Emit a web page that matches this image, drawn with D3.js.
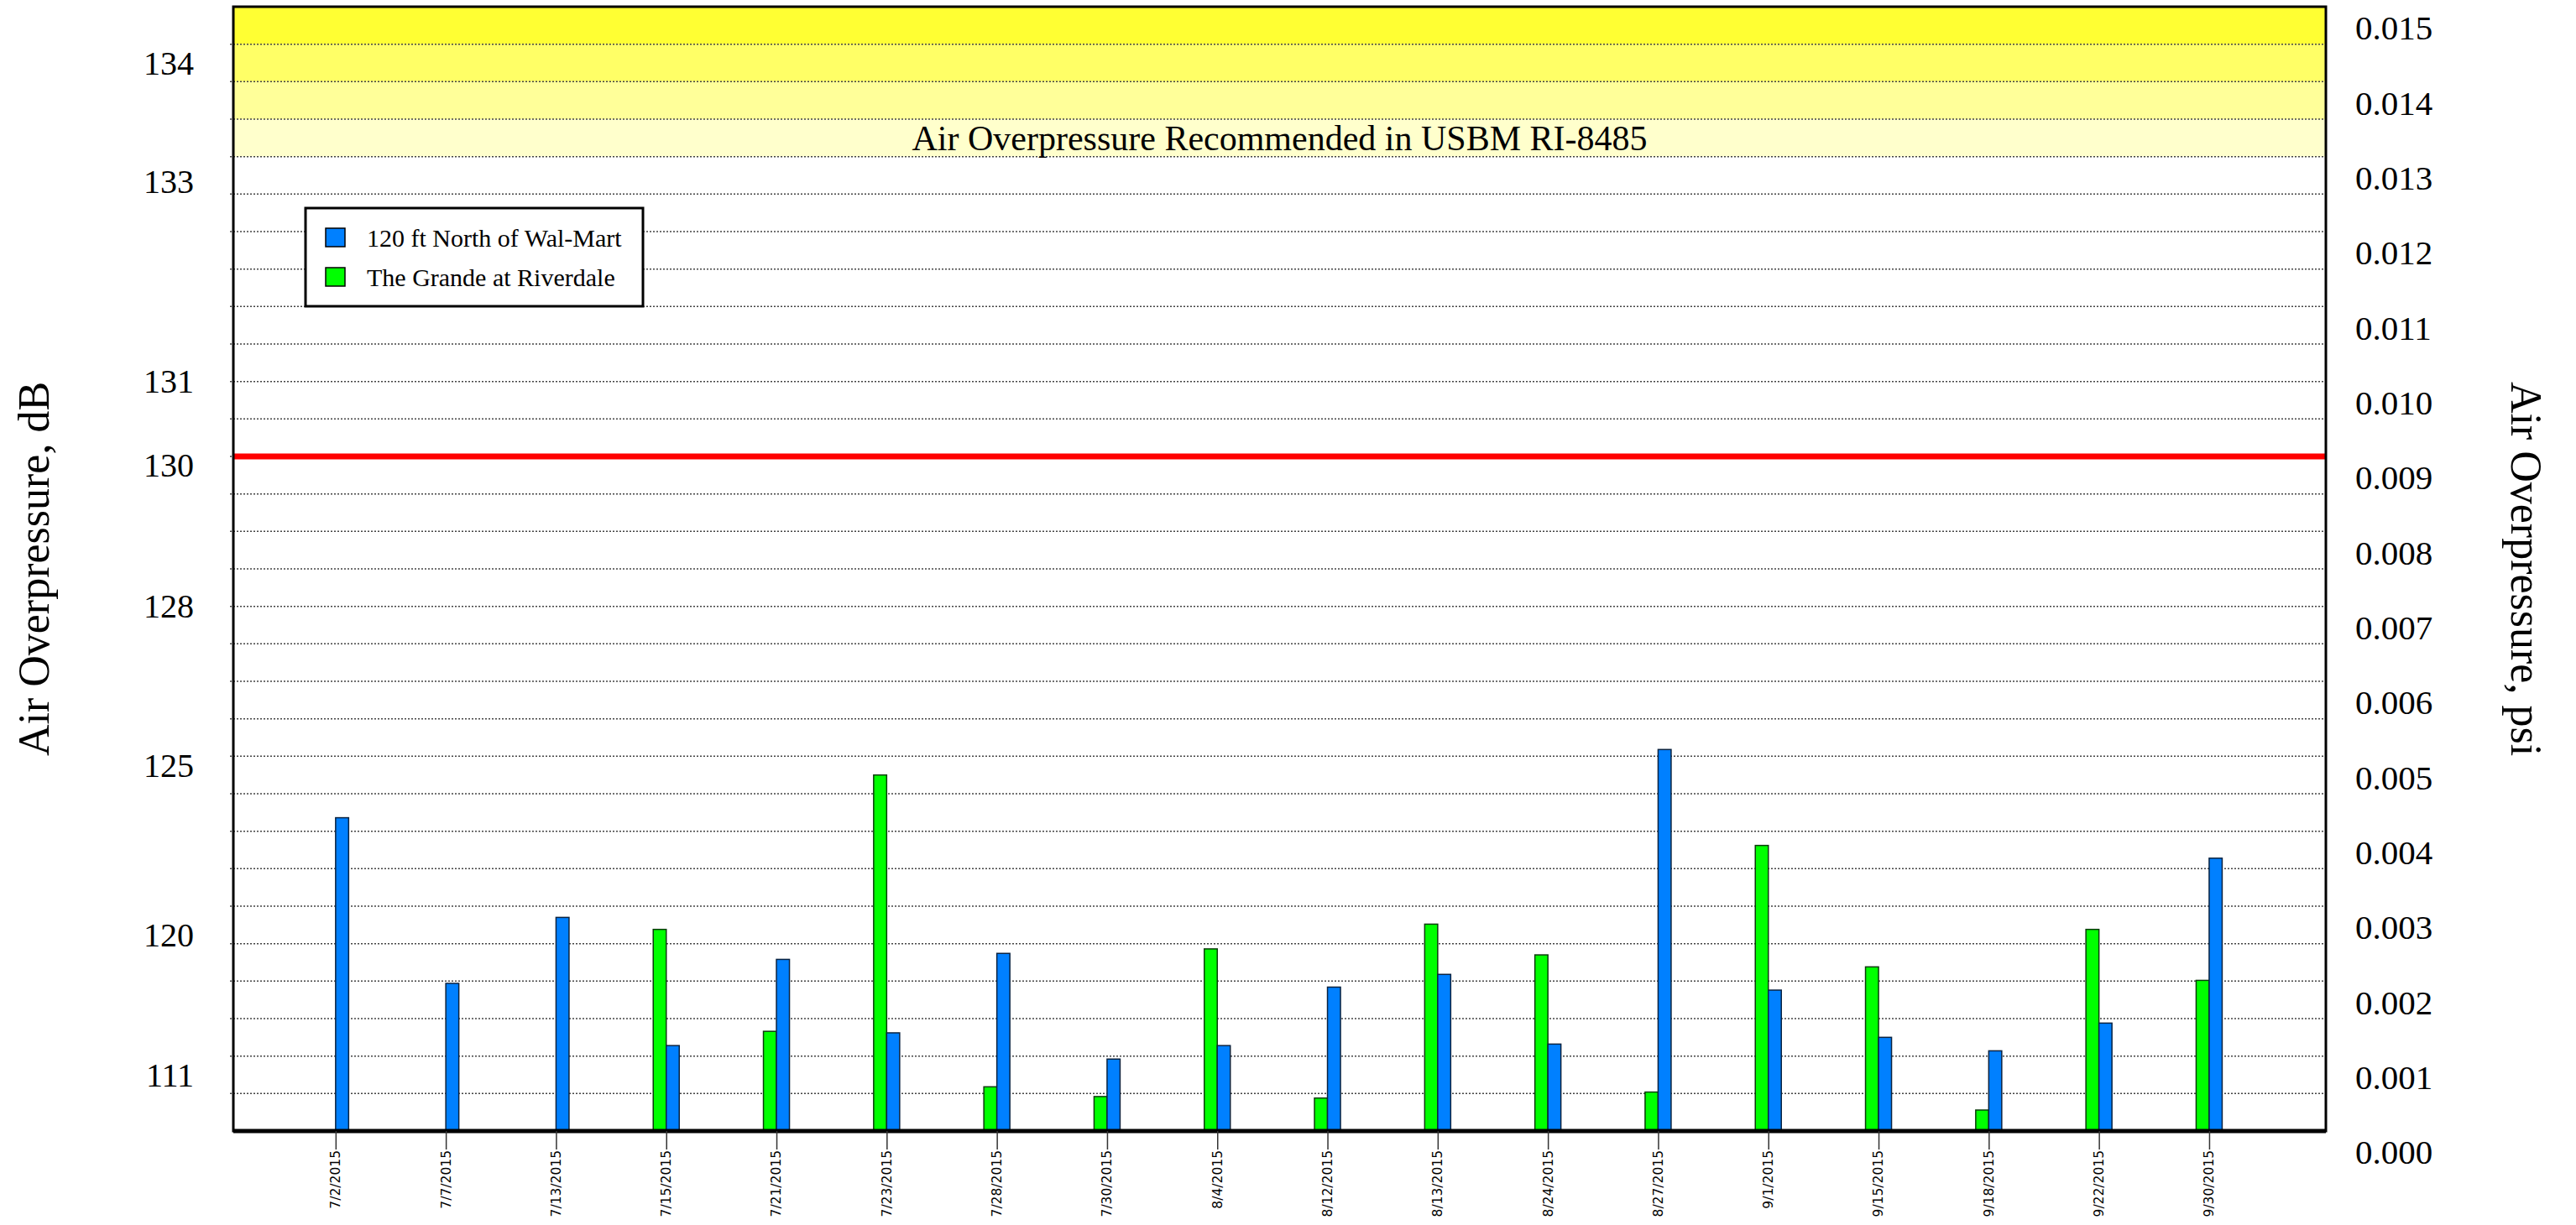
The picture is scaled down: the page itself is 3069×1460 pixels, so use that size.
<!DOCTYPE html>
<html>
<head>
<meta charset="utf-8">
<script src="https://cdn.jsdelivr.net/npm/d3@7"></script>
<style>
  html, body { margin: 0; padding: 0; background: #fff; overflow: hidden; }
  svg { display: block; }
  .serif { font-family: "Liberation Serif", "Times New Roman", serif; }
  .date { font-family: "DejaVu Sans", sans-serif; font-size: 15.5px; }
</style>
</head>
<body>
<svg id="chart" width="3069" height="1460"></svg>
<script>
/* Data */
const dates = ['7/2/2015', '7/7/2015', '7/13/2015', '7/15/2015', '7/21/2015', '7/23/2015',
  '7/28/2015', '7/30/2015', '8/4/2015', '8/12/2015', '8/13/2015', '8/24/2015',
  '8/27/2015', '9/1/2015', '9/15/2015', '9/18/2015', '9/22/2015', '9/30/2015'];
const walmart = [0.00418, 0.00197, 0.00285, 0.00114, 0.00229, 0.00131,
  0.00237, 0.00096, 0.00114, 0.00192, 0.00209, 0.00116,
  0.00509, 0.00188, 0.00125, 0.00107, 0.00144, 0.00364];
const grande = [null, null, null, 0.00269, 0.00133, 0.00475,
  0.00059, 0.00046, 0.00243, 0.00044, 0.00276, 0.00235,
  0.00052, 0.00381, 0.00219, 0.00028, 0.00269, 0.00201];
const seriesNames = ['120 ft North of Wal-Mart', 'The Grande at Riverdale'];
const dbTicks = [134, 133, 131, 130, 128, 125, 120, 111];
const psiTicks = d3.range(0, 16).map(i => i / 1000);
const limitPsi = 0.009;
const bandSteps = [0.013, 0.0135, 0.014, 0.0145];
const bandColors = ['#ffffcc', '#ffff99', '#ffff66', '#ffff33'];
const bandLabel = 'Air Overpressure Recommended in USBM RI-8485';

/* SVG */
const svg = d3.select('#chart');
const margin = { top: 8, right: 298, bottom: 112, left: 278 };
const width = +svg.attr('width');
const height = +svg.attr('height');
const innerWidth = width - margin.left - margin.right;
const innerHeight = height - margin.top - margin.bottom;
const LABEL_DY = 25;
const BAR_W = 15.5;
const TICK_LEN = 22;

const g = svg.append('g')
  .attr('transform', `translate(${margin.left},${margin.top})`);

/* Scales */
const x = d3.scalePoint()
  .domain(dates)
  .range([0, innerWidth])
  .padding(0.9935)
  .align(0.467);
const y = d3.scaleLinear()
  .domain([0, 0.015])
  .range([innerHeight, 0]);
const dbToPsi = db => 2.9e-9 * Math.pow(10, db / 20);

/* Yellow band */
g.selectAll('rect.band')
  .data(bandSteps)
  .enter().append('rect')
  .attr('class', 'band')
  .attr('x', 0)
  .attr('width', innerWidth)
  .attr('y', d => y(d + 0.0005))
  .attr('height', d => y(d) - y(d + 0.0005))
  .attr('fill', (d, i) => bandColors[i]);

/* Grid */
const gridVals = d3.range(1, 30).map(i => i * 0.0005);
g.selectAll('line.grid')
  .data(gridVals)
  .enter().append('line')
  .attr('class', 'grid')
  .attr('x1', -4)
  .attr('x2', innerWidth)
  .attr('y1', d => y(d))
  .attr('y2', d => y(d))
  .attr('stroke', '#444')
  .attr('stroke-width', 1.5)
  .attr('stroke-dasharray', '2,2');

g.append('text')
  .attr('class', 'serif')
  .attr('x', innerWidth / 2)
  .attr('y', (y(0.013) + y(0.0135)) / 2)
  .attr('dy', '0.35em')
  .attr('text-anchor', 'middle')
  .attr('font-size', 42)
  .text(bandLabel);

/* Limit line */
g.append('line')
  .attr('x1', 0)
  .attr('x2', innerWidth)
  .attr('y1', y(limitPsi))
  .attr('y2', y(limitPsi))
  .attr('stroke', '#ff0000')
  .attr('stroke-width', 7);

/* Bars */
g.selectAll('rect.green')
  .data(dates.map((d, i) => ({ date: d, v: grande[i] })).filter(d => d.v != null))
  .enter().append('rect')
  .attr('class', 'green')
  .attr('x', d => x(d.date) - BAR_W)
  .attr('y', d => y(d.v))
  .attr('width', BAR_W)
  .attr('height', d => y(0) - y(d.v))
  .attr('fill', '#00ff00')
  .attr('stroke', '#0b3b0b')
  .attr('stroke-width', 1.5);

g.selectAll('rect.blue')
  .data(dates.map((d, i) => ({ date: d, v: walmart[i] })))
  .enter().append('rect')
  .attr('class', 'blue')
  .attr('x', d => x(d.date))
  .attr('y', d => y(d.v))
  .attr('width', BAR_W)
  .attr('height', d => y(0) - y(d.v))
  .attr('fill', '#0080ff')
  .attr('stroke', '#0b2340')
  .attr('stroke-width', 1.5);

/* Frame */
g.append('rect')
  .attr('x', 0)
  .attr('y', 0)
  .attr('width', innerWidth)
  .attr('height', innerHeight)
  .attr('fill', 'none')
  .attr('stroke', '#000')
  .attr('stroke-width', 3);
g.append('line')
  .attr('x1', 0)
  .attr('x2', innerWidth)
  .attr('y1', innerHeight)
  .attr('y2', innerHeight)
  .attr('stroke', '#000')
  .attr('stroke-width', 5);

/* X axis */
const xAxis = g.append('g')
  .attr('transform', `translate(0,${innerHeight})`)
  .call(d3.axisBottom(x).tickSize(TICK_LEN).tickFormat(''));
xAxis.select('.domain').remove();
xAxis.selectAll('.tick line').attr('stroke', '#333').attr('stroke-width', 1.5);

g.selectAll('text.date')
  .data(dates)
  .enter().append('text')
  .attr('class', 'date')
  .attr('transform', d => `translate(${x(d)},${innerHeight + TICK_LEN + 1}) rotate(-90)`)
  .attr('text-anchor', 'end')
  .attr('dy', '0.35em')
  .text(d => d);

/* Left axis, dB */
g.selectAll('text.db')
  .data(dbTicks)
  .enter().append('text')
  .attr('class', 'serif db')
  .attr('x', -47)
  .attr('y', d => y(dbToPsi(d)) + LABEL_DY)
  .attr('dy', '0.35em')
  .attr('text-anchor', 'end')
  .attr('font-size', 40)
  .text(d => d);

/* Right axis, psi */
g.selectAll('text.psi')
  .data(psiTicks)
  .enter().append('text')
  .attr('class', 'serif psi')
  .attr('x', innerWidth + 35)
  .attr('y', d => y(d) + LABEL_DY)
  .attr('dy', '0.35em')
  .attr('font-size', 41)
  .text(d => d3.format('.3f')(d));

/* Axis titles */
svg.append('text')
  .attr('class', 'serif')
  .attr('transform', `translate(40,${margin.top + innerHeight / 2}) rotate(-90)`)
  .attr('text-anchor', 'middle')
  .attr('dy', '0.35em')
  .attr('font-size', 52)
  .text('Air Overpressure, dB');

svg.append('text')
  .attr('class', 'serif')
  .attr('transform', `translate(3010,${margin.top + innerHeight / 2}) rotate(90)`)
  .attr('text-anchor', 'middle')
  .attr('dy', '0.35em')
  .attr('font-size', 52)
  .text('Air Overpressure, psi');

/* Legend */
const legend = svg.append('g').attr('transform', 'translate(364,248)');
legend.append('rect')
  .attr('width', 402)
  .attr('height', 117)
  .attr('fill', '#fff')
  .attr('stroke', '#000')
  .attr('stroke-width', 3);

const legendItem = legend.selectAll('g.item')
  .data(seriesNames)
  .enter().append('g')
  .attr('class', 'item')
  .attr('transform', (d, i) => `translate(24,${24 + i * 47})`);

legendItem.append('rect')
  .attr('width', 23)
  .attr('height', 22)
  .attr('fill', (d, i) => i === 0 ? '#0080ff' : '#00ff00')
  .attr('stroke', '#000')
  .attr('stroke-width', 1.5);

legendItem.append('text')
  .attr('class', 'serif')
  .attr('x', 49)
  .attr('y', 11)
  .attr('dy', '0.35em')
  .attr('font-size', 30)
  .text(d => d);
</script>
</body>
</html>
